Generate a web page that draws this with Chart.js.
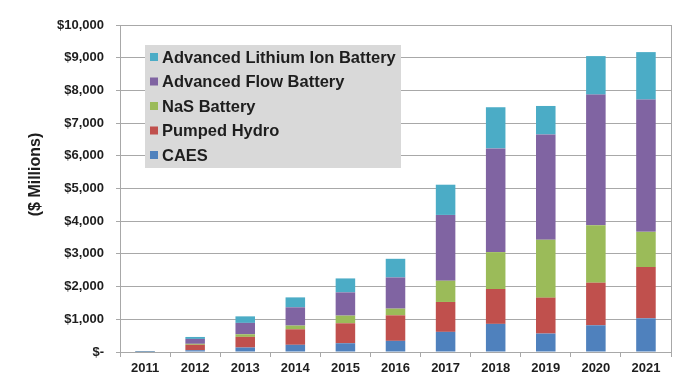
<!DOCTYPE html>
<html>
<head>
<meta charset="utf-8">
<script src="https://cdn.jsdelivr.net/npm/chart.js@4.4.1/dist/chart.umd.min.js"></script>
<style>
  html, body { margin: 0; padding: 0; background: #ffffff; }
  #wrap { position: relative; width: 700px; height: 392px; }
</style>
</head>
<body>
<div id="wrap"><canvas id="c" width="700" height="392"></canvas></div>
<script>
const years = ['2011','2012','2013','2014','2015','2016','2017','2018','2019','2020','2021'];
const caes        = [5, 55, 137, 220, 268, 341, 616, 860, 564, 817, 1030];
const pumpedHydro = [3, 165, 326, 475, 610, 781, 914, 1067, 1098, 1302, 1568];
const nasBattery  = [2, 30, 80, 113, 235, 204, 650, 1128, 1768, 1759, 1076];
const flowBattery = [5, 150, 347, 558, 710, 954, 2012, 3171, 3222, 3994, 4046];
const lithiumIon  = [15, 60, 200, 304, 427, 570, 924, 1259, 872, 1177, 1451];
const seriesNames = ['CAES', 'Pumped Hydro', 'NaS Battery', 'Advanced Flow Battery', 'Advanced Lithium Ion Battery'];
const yTitle = '($ Millions)';

const colors = ['#4F81BD', '#C0504D', '#9BBB59', '#8064A2', '#4BACC6'];
const FONT = '"Liberation Sans", Arial, sans-serif';
const TEXT = '#1e1e1e';
const GRID = '#a8a8a8';

const rightBorder = {
  id: 'rightBorder',
  afterDatasetsDraw(chart) {
    const a = chart.chartArea, ctx = chart.ctx;
    ctx.save();
    ctx.strokeStyle = GRID; ctx.lineWidth = 1;
    ctx.beginPath();
    ctx.moveTo(a.right + 0.5, a.top); ctx.lineTo(a.right + 0.5, a.bottom);
    ctx.stroke();
    ctx.restore();
  }
};

const boxLegend = {
  id: 'boxLegend',
  afterDraw(chart) {
    const ctx = chart.ctx;
    ctx.save();
    ctx.fillStyle = '#D9D9D9';
    ctx.fillRect(145, 45, 256, 123);
    const ds = chart.data.datasets.slice().reverse();
    ctx.font = 'bold 16.5px ' + FONT;
    ctx.textBaseline = 'middle';
    ctx.textAlign = 'left';
    ds.forEach((d, i) => {
      const y = 57 + i * 24.5;
      ctx.fillStyle = d.backgroundColor;
      ctx.fillRect(150, y - 4, 8, 8);
      ctx.fillStyle = TEXT;
      ctx.fillText(d.label, 162, y + 1);
    });
    // y axis title
    ctx.translate(35.5, 174.5);
    ctx.rotate(-Math.PI / 2);
    ctx.textAlign = 'center';
    ctx.font = 'bold 16px ' + FONT;
    ctx.fillStyle = TEXT;
    ctx.fillText(yTitle, 0, 0);
    ctx.restore();
  }
};

const seriesData = [caes, pumpedHydro, nasBattery, flowBattery, lithiumIon];

new Chart(document.getElementById('c'), {
  type: 'bar',
  data: {
    labels: years,
    datasets: seriesData.map((d, i) => ({
      label: seriesNames[i],
      data: d,
      backgroundColor: colors[i],
      borderWidth: 0,
      categoryPercentage: 1,
      barPercentage: 0.39
    }))
  },
  options: {
    responsive: false,
    animation: false,
    devicePixelRatio: 1,
    layout: { padding: { left: 0, top: 25, right: 29, bottom: 0 } },
    plugins: { legend: { display: false }, tooltip: { enabled: false } },
    scales: {
      x: {
        stacked: true,
        afterFit(scale) { scale.height = 40; },
        grid: { drawOnChartArea: false, drawTicks: true, tickLength: 5, color: GRID, offset: true },
        border: { color: GRID, width: 1 },
        ticks: { font: { family: FONT, size: 13, weight: 'bold' }, color: TEXT, padding: 4, maxRotation: 0 }
      },
      y: {
        stacked: true,
        min: 0, max: 10000,
        afterFit(scale) { scale.width = 120; },
        grid: { color: GRID, lineWidth: 1, tickLength: 4 },
        border: { color: GRID, width: 1 },
        ticks: {
          stepSize: 1000,
          font: { family: FONT, size: 13, weight: 'bold' },
          color: TEXT,
          padding: 12,
          callback: v => v === 0 ? '$-' : '$' + v.toLocaleString('en-US')
        }
      }
    }
  },
  plugins: [rightBorder, boxLegend]
});
</script>
</body>
</html>
